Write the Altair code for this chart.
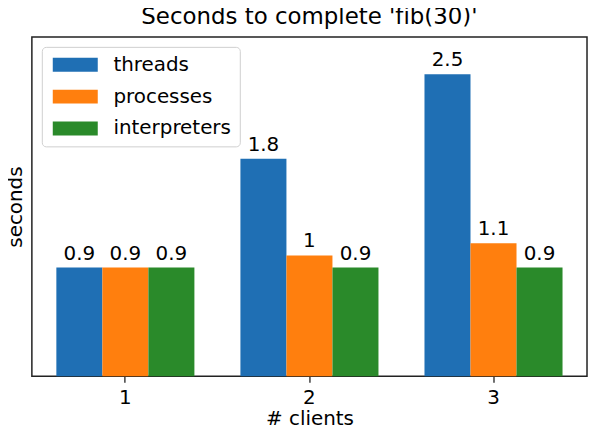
import altair as alt
import pandas as pd

clients = ["1", "2", "3"]
series = ["threads", "processes", "interpreters"]
threads = [0.9, 1.8, 2.5]
processes = [0.9, 1.0, 1.1]
interpreters = [0.9, 0.9, 0.9]
colors = ["#1f6fb4", "#ff7f0e", "#2a8a2a"]

rows = []
for name, vals in zip(series, [threads, processes, interpreters]):
    for c, v in zip(clients, vals):
        rows.append({"clients": c, "kind": name, "seconds": v})
df = pd.DataFrame(rows)

FONT = "DejaVu Sans"
# zero-width non-joiner keeps "f" and "i" as separate glyphs (no fi ligature)
TITLE = "Seconds to complete 'f\u200cib(30)'"

x = alt.X(
    "clients:N",
    title="# clients",
    sort=clients,
    scale=alt.Scale(paddingInner=0.25, paddingOuter=0.133),
    axis=alt.Axis(labelAngle=0, labelFontSize=20, labelFont=FONT, labelColor="black",
                  tickColor="#222", tickSize=6, tickWidth=1.3, labelPadding=5,
                  domain=False, titleFontSize=20, titleFont=FONT,
                  titleFontWeight="normal", titleColor="black", titlePadding=2),
)
xo = alt.XOffset("kind:N", sort=series,
                 scale=alt.Scale(domain=series, paddingInner=0, paddingOuter=0))
y = alt.Y(
    "seconds:Q",
    title="seconds",
    scale=alt.Scale(domain=[0, 2.81], nice=False, zero=True),
    axis=alt.Axis(labels=False, ticks=False, grid=False, domain=False,
                  titleFontSize=20, titleFont=FONT, titleFontWeight="normal",
                  titleColor="black", titlePadding=6),
)

legend = alt.Legend(
    title=None,
    orient="none",
    legendX=10,
    legendY=10,
    symbolType="M-1,-1L5.46,-1L5.46,1L-1,1Z",
    symbolSize=196,
    symbolStrokeWidth=0,
    symbolOpacity=1,
    labelFontSize=20,
    labelFont=FONT,
    labelColor="black",
    labelOffset=44,
    rowPadding=12,
    padding=8,
    strokeColor="#d0d0d0",
    fillColor="white",
    cornerRadius=4,
)

bars = alt.Chart(df).mark_bar(strokeWidth=0).encode(
    x=x,
    xOffset=xo,
    y=y,
    color=alt.Color("kind:N", sort=series,
                    scale=alt.Scale(domain=series, range=colors), legend=legend),
)

labels = alt.Chart(df).mark_text(
    baseline="bottom", dy=-4, fontSize=20, font=FONT, color="black"
).encode(
    x=x,
    xOffset=xo,
    y=y,
    text=alt.Text("seconds:Q", format="~g"),
)

chart = (
    alt.layer(bars, labels)
    .properties(
        width=558,
        height=341,
        title=alt.TitleParams(TITLE, fontSize=23, font=FONT,
                              fontWeight="normal", color="black", anchor="middle",
                              offset=8),
        autosize=alt.AutoSizeParams(type="none"),
        padding={"left": 24, "top": 28, "right": 2, "bottom": 48},
        background="white",
    )
    .configure_view(stroke="#222", strokeWidth=1.5)
)

chart.save("out.html", embed_options={"renderer": "svg", "actions": False})
